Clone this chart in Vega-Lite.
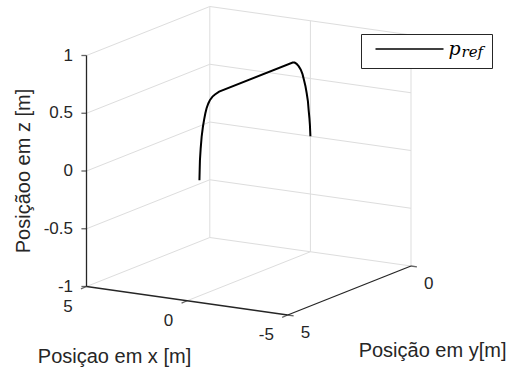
{
  "$schema": "https://vega.github.io/schema/vega-lite/v6.json",
  "width": 510,
  "height": 372,
  "padding": 0,
  "autosize": {"type": "none"},
  "background": "white",
  "config": {
    "view": {"stroke": null},
    "text": {"font": "Liberation Sans", "color": "#262626"}
  },
  "data": {
    "values": [
      {"role": "grid", "seg": "zL-1", "k": 0, "x": 5, "y": 5, "z": -1},
      {"role": "grid", "seg": "zL-1", "k": 1, "x": 5, "y": 0, "z": -1},
      {"role": "grid", "seg": "zL-0.5", "k": 0, "x": 5, "y": 5, "z": -0.5},
      {"role": "grid", "seg": "zL-0.5", "k": 1, "x": 5, "y": 0, "z": -0.5},
      {"role": "grid", "seg": "zL0", "k": 0, "x": 5, "y": 5, "z": 0},
      {"role": "grid", "seg": "zL0", "k": 1, "x": 5, "y": 0, "z": 0},
      {"role": "grid", "seg": "zL0.5", "k": 0, "x": 5, "y": 5, "z": 0.5},
      {"role": "grid", "seg": "zL0.5", "k": 1, "x": 5, "y": 0, "z": 0.5},
      {"role": "grid", "seg": "zL1", "k": 0, "x": 5, "y": 5, "z": 1},
      {"role": "grid", "seg": "zL1", "k": 1, "x": 5, "y": 0, "z": 1},
      {"role": "grid", "seg": "zB-1", "k": 0, "x": 5, "y": 0, "z": -1},
      {"role": "grid", "seg": "zB-1", "k": 1, "x": -5, "y": 0, "z": -1},
      {"role": "grid", "seg": "zB-0.5", "k": 0, "x": 5, "y": 0, "z": -0.5},
      {"role": "grid", "seg": "zB-0.5", "k": 1, "x": -5, "y": 0, "z": -0.5},
      {"role": "grid", "seg": "zB0", "k": 0, "x": 5, "y": 0, "z": 0},
      {"role": "grid", "seg": "zB0", "k": 1, "x": -5, "y": 0, "z": 0},
      {"role": "grid", "seg": "zB0.5", "k": 0, "x": 5, "y": 0, "z": 0.5},
      {"role": "grid", "seg": "zB0.5", "k": 1, "x": -5, "y": 0, "z": 0.5},
      {"role": "grid", "seg": "zB1", "k": 0, "x": 5, "y": 0, "z": 1},
      {"role": "grid", "seg": "zB1", "k": 1, "x": -5, "y": 0, "z": 1},
      {"role": "grid", "seg": "xB5", "k": 0, "x": 5, "y": 0, "z": -1},
      {"role": "grid", "seg": "xB5", "k": 1, "x": 5, "y": 0, "z": 1},
      {"role": "grid", "seg": "xB0", "k": 0, "x": 0, "y": 0, "z": -1},
      {"role": "grid", "seg": "xB0", "k": 1, "x": 0, "y": 0, "z": 1},
      {"role": "grid", "seg": "xB-5", "k": 0, "x": -5, "y": 0, "z": -1},
      {"role": "grid", "seg": "xB-5", "k": 1, "x": -5, "y": 0, "z": 1},
      {"role": "grid", "seg": "xF0", "k": 0, "x": 0, "y": 5, "z": -1},
      {"role": "grid", "seg": "xF0", "k": 1, "x": 0, "y": 0, "z": -1},

      {"role": "axis", "seg": "ax-z", "k": 0, "x": 5, "y": 5, "z": -1},
      {"role": "axis", "seg": "ax-z", "k": 1, "x": 5, "y": 5, "z": 1},
      {"role": "axis", "seg": "ax-x", "k": 0, "x": 5, "y": 5, "z": -1},
      {"role": "axis", "seg": "ax-x", "k": 1, "x": -5, "y": 5, "z": -1},
      {"role": "axis", "seg": "ax-y", "k": 0, "x": -5, "y": 5, "z": -1},
      {"role": "axis", "seg": "ax-y", "k": 1, "x": -5, "y": 0, "z": -1},

      {"role": "tick", "axis": "z", "x": 5, "y": 5, "z": -1, "label": "-1"},
      {"role": "tick", "axis": "z", "x": 5, "y": 5, "z": -0.5, "label": "-0.5"},
      {"role": "tick", "axis": "z", "x": 5, "y": 5, "z": 0, "label": "0"},
      {"role": "tick", "axis": "z", "x": 5, "y": 5, "z": 0.5, "label": "0.5"},
      {"role": "tick", "axis": "z", "x": 5, "y": 5, "z": 1, "label": "1"},
      {"role": "tick", "axis": "x", "x": 5, "y": 5, "z": -1, "label": "5"},
      {"role": "tick", "axis": "x", "x": 0, "y": 5, "z": -1, "label": "0"},
      {"role": "tick", "axis": "x", "x": -5, "y": 5, "z": -1, "label": "-5"},
      {"role": "tick", "axis": "y", "x": -5, "y": 5, "z": -1, "label": "5"},
      {"role": "tick", "axis": "y", "x": -5, "y": 0, "z": -1, "label": "0"},

      {"role": "title", "axis": "x", "x": 0, "y": 5, "z": -1, "text": "Posiçao em x [m]"},
      {"role": "title", "axis": "y", "x": -5, "y": 2.5, "z": -1, "text": "Posição em y[m]"},
      {"role": "title", "axis": "z", "x": 5, "y": 5, "z": 0, "text": "Posiçãoo em z [m]"},

      {"role": "traj", "serie": "p_ref", "k": 0, "x": 0, "y": 4.5, "z": 0},
      {"role": "traj", "serie": "p_ref", "k": 1, "x": 0, "y": 4.49, "z": 0.09},
      {"role": "traj", "serie": "p_ref", "k": 2, "x": 0, "y": 4.48, "z": 0.17},
      {"role": "traj", "serie": "p_ref", "k": 3, "x": 0, "y": 4.45, "z": 0.27},
      {"role": "traj", "serie": "p_ref", "k": 4, "x": 0, "y": 4.41, "z": 0.37},
      {"role": "traj", "serie": "p_ref", "k": 5, "x": 0, "y": 4.36, "z": 0.45},
      {"role": "traj", "serie": "p_ref", "k": 6, "x": 0, "y": 4.31, "z": 0.51},
      {"role": "traj", "serie": "p_ref", "k": 7, "x": 0, "y": 4.26, "z": 0.56},
      {"role": "traj", "serie": "p_ref", "k": 8, "x": 0, "y": 4.21, "z": 0.6},
      {"role": "traj", "serie": "p_ref", "k": 9, "x": 0, "y": 4.14, "z": 0.635},
      {"role": "traj", "serie": "p_ref", "k": 10, "x": 0, "y": 4.07, "z": 0.66},
      {"role": "traj", "serie": "p_ref", "k": 11, "x": 0, "y": 3.97, "z": 0.68},
      {"role": "traj", "serie": "p_ref", "k": 12, "x": 0, "y": 3.87, "z": 0.69},
      {"role": "traj", "serie": "p_ref", "k": 13, "x": 0, "y": 3.7, "z": 0.7},
      {"role": "traj", "serie": "p_ref", "k": 14, "x": 0, "y": 0.72, "z": 0.7},
      {"role": "traj", "serie": "p_ref", "k": 15, "x": 0, "y": 0.64, "z": 0.692},
      {"role": "traj", "serie": "p_ref", "k": 16, "x": 0, "y": 0.56, "z": 0.675},
      {"role": "traj", "serie": "p_ref", "k": 17, "x": 0, "y": 0.47, "z": 0.645},
      {"role": "traj", "serie": "p_ref", "k": 18, "x": 0, "y": 0.39, "z": 0.61},
      {"role": "traj", "serie": "p_ref", "k": 19, "x": 0, "y": 0.32, "z": 0.565},
      {"role": "traj", "serie": "p_ref", "k": 20, "x": 0, "y": 0.26, "z": 0.51},
      {"role": "traj", "serie": "p_ref", "k": 21, "x": 0, "y": 0.2, "z": 0.45},
      {"role": "traj", "serie": "p_ref", "k": 22, "x": 0, "y": 0.15, "z": 0.385},
      {"role": "traj", "serie": "p_ref", "k": 23, "x": 0, "y": 0.1, "z": 0.31},
      {"role": "traj", "serie": "p_ref", "k": 24, "x": 0, "y": 0.07, "z": 0.23},
      {"role": "traj", "serie": "p_ref", "k": 25, "x": 0, "y": 0.04, "z": 0.16},
      {"role": "traj", "serie": "p_ref", "k": 26, "x": 0, "y": 0.02, "z": 0.1},
      {"role": "traj", "serie": "p_ref", "k": 27, "x": 0, "y": 0.01, "z": 0.05},
      {"role": "traj", "serie": "p_ref", "k": 28, "x": 0, "y": 0, "z": 0}
    ]
  },
  "transform": [
    {"calculate": "86.5 + 20.12 * (5 - datum.x) + 24.66 * (5 - datum.y)", "as": "px"},
    {"calculate": "286.5 + 2.85 * (5 - datum.x) - 9.8 * (5 - datum.y) - 115.5 * (datum.z + 1)", "as": "py"}
  ],
  "encoding": {
    "x": {"field": "px", "type": "quantitative", "axis": null, "scale": {"domain": [0, 510], "nice": false, "zero": false}},
    "y": {"field": "py", "type": "quantitative", "axis": null, "scale": {"domain": [372, 0], "nice": false, "zero": false}}
  },
  "layer": [
    {
      "transform": [{"filter": "datum.role === 'grid'"}],
      "mark": {"type": "line", "color": "#dddddd", "strokeWidth": 1},
      "encoding": {"detail": {"field": "seg"}, "order": {"field": "k"}}
    },
    {
      "transform": [{"filter": "datum.role === 'axis'"}],
      "mark": {"type": "line", "color": "#262626", "strokeWidth": 1.3},
      "encoding": {"detail": {"field": "seg"}, "order": {"field": "k"}}
    },
    {
      "transform": [{"filter": "datum.role === 'tick'"}],
      "mark": {"type": "point", "filled": false, "strokeWidth": 1.3, "color": "#262626", "size": 144},
      "encoding": {
        "shape": {
          "field": "axis",
          "legend": null,
          "scale": {"domain": ["x", "y", "z"], "range": ["M0,0L-0.925,0.379", "M0,0L0.99,0.14", "M0,0L-0.85,0"]}
        }
      }
    },
    {
      "transform": [{"filter": "datum.role === 'traj'"}],
      "mark": {"type": "line", "strokeWidth": 2, "interpolate": "linear"},
      "encoding": {
        "order": {"field": "k"},
        "color": {
          "field": "serie",
          "type": "nominal",
          "scale": {"range": ["black"]},
          "legend": {
            "orient": "none",
            "legendX": 361,
            "legendY": 34,
            "padding": 8.5,
            "clipHeight": 13,
            "strokeColor": "#262626",
            "fillColor": "white",
            "symbolType": "stroke",
            "symbolSize": 4624,
            "symbolOffset": 5,
            "symbolStrokeWidth": 1.5,
            "labelExpr": "'p'",
            "labelFont": "DejaVu Serif",
            "labelFontStyle": "italic",
            "labelFontSize": 19,
            "labelColor": "black",
            "labelOffset": 4,
            "title": "ref",
            "titleOrient": "right",
            "titleFont": "DejaVu Serif",
            "titleFontStyle": "italic",
            "titleFontWeight": "normal",
            "titleFontSize": 15,
            "titleColor": "black",
            "titlePadding": 1,
            "titleBaseline": "bottom",
            "titleAnchor": "end"
          }
        }
      }
    },
    {
      "transform": [{"filter": "datum.role === 'tick' && datum.axis === 'z'"}],
      "mark": {"type": "text", "align": "right", "baseline": "middle", "dx": -13.5, "fontSize": 17},
      "encoding": {"text": {"field": "label"}}
    },
    {
      "transform": [{"filter": "datum.role === 'tick' && datum.axis === 'x'"}],
      "mark": {"type": "text", "align": "right", "baseline": "middle", "dx": -13.8, "dy": 20, "fontSize": 17},
      "encoding": {"text": {"field": "label"}}
    },
    {
      "transform": [{"filter": "datum.role === 'tick' && datum.axis === 'y'"}],
      "mark": {"type": "text", "align": "left", "baseline": "middle", "dx": 13, "dy": 18, "fontSize": 17},
      "encoding": {"text": {"field": "label"}}
    },
    {
      "transform": [{"filter": "datum.role === 'title' && datum.axis === 'x'"}],
      "mark": {"type": "text", "align": "center", "baseline": "alphabetic", "dx": -72.6, "dy": 62, "fontSize": 20},
      "encoding": {"text": {"field": "text"}}
    },
    {
      "transform": [{"filter": "datum.role === 'title' && datum.axis === 'y'"}],
      "mark": {"type": "text", "align": "center", "baseline": "alphabetic", "dx": 83.2, "dy": 66.2, "fontSize": 20},
      "encoding": {"text": {"field": "text"}}
    },
    {
      "transform": [{"filter": "datum.role === 'title' && datum.axis === 'z'"}],
      "mark": {"type": "text", "align": "center", "baseline": "alphabetic", "angle": 270, "dy": -56.5, "fontSize": 20},
      "encoding": {"text": {"field": "text"}}
    }
  ]
}
